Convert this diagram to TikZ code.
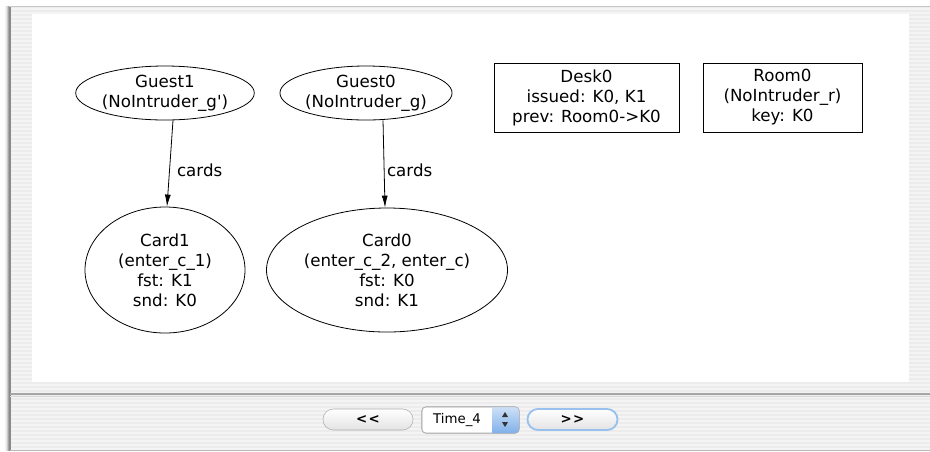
\documentclass[tikz,border=0pt]{standalone}
\usepackage{fontspec}
\setmainfont{DejaVu Sans}
\usetikzlibrary{shapes.geometric, arrows.meta}

\definecolor{okno}{HTML}{ECECEC}
\definecolor{ramka}{HTML}{8A8A8A}
\definecolor{goluboy}{HTML}{6FA6E6}

\tikzset{
    atom/.style = {draw, line width = 0.6pt, ellipse, inner sep = 0pt, align = center,
                   font = \fontsize{12.5}{15}\selectfont},
    sig/.style = {draw, line width = 0.6pt, rectangle, inner sep = 0pt, align = center,
                  font = \fontsize{12.5}{15}\selectfont},
    rel/.style = {-{Latex[length = 9pt, width = 4.5pt]}, line width = 0.6pt},
    metka/.style = {right, inner sep = 2pt, yshift = -5pt, font = \fontsize{12.5}{15}\selectfont},
    knopka/.style = {draw = gray!65, rounded corners = 7.8pt, top color = white, bottom color = gray!22,
                     minimum height = 15.75pt, minimum width = 67.5pt, font = \fontsize{10}{11}\selectfont\bfseries}
}

\begin{document}
\begin{tikzpicture}[x = 0.75pt, y = -0.75pt]
    \useasboundingbox (0, 0) rectangle (930, 451);

    % Окно
    \fill[white] (0, 0) rectangle (930, 451);
    \foreach \i/\c in {1/35, 2/20, 3/10, 4/5}
        \draw[black!\c] (9 - \i, 6) -- (9 - \i, 451); % тень слева
    \fill[okno] (9, 6) rectangle (930, 451);
    \foreach \y in {9, 13, ..., 449}
        \draw[white, opacity = 0.45, line width = 1.2pt] (10, \y) -- (930, \y); % полоски
    \draw[ramka, line width = 1.5pt] (9.5, 6) -- (9.5, 451);
    \draw[gray!45] (9, 6.5) -- (930, 6.5);
    \fill[white] (32, 14) rectangle (909, 382); % панель

    % Нижняя полоса
    \draw[gray!70, line width = 1.5pt] (10, 394) -- (930, 394);
    \draw[gray!30] (10, 396.5) -- (930, 396.5);
    \draw[gray!55] (10, 450) -- (930, 450);

    % Атомы
    \node[atom, minimum width = 127.5pt, minimum height = 40.5pt] (guest1) at (165, 93)
        {Guest1\\(NoIntruder\_g\textquotesingle)};
    \node[atom, minimum width = 117.75pt, minimum height = 40.5pt] (guest0) at (366, 93)
        {Guest0\\(NoIntruder\_g)};
    \node[sig, minimum width = 138.75pt, minimum height = 51.75pt] (desk0) at (586.5, 97.5)
        {Desk0\\issued: K0, K1\\prev: Room0->K0};
    \node[sig, minimum width = 119.25pt, minimum height = 51.75pt] (room0) at (782.5, 97.5)
        {Room0\\(NoIntruder\_r)\\key: K0};
    \node[atom, minimum width = 120pt, minimum height = 94.5pt] (card1) at (165, 270)
        {Card1\\(enter\_c\_1)\\fst: K1\\snd: K0};
    \node[atom, minimum width = 180.75pt, minimum height = 93pt] (card0) at (387, 270)
        {Card0\\(enter\_c\_2, enter\_c)\\fst: K0\\snd: K1};

    % Связи
    \draw[rel] ([xshift = 6pt]guest1.south) -- node[metka, xshift = 3pt] (lab1) {cards} ([xshift = 1.5pt]card1.north);
    \draw[rel] ([xshift = 12.75pt]guest0.south) -- node[metka] (lab0) {cards} ([xshift = -1.5pt]card0.north);

    % Кнопки
    \node[knopka] (nazad) at (368, 419.5) {<\kern1pt<}; % без лигатуры
    \node[draw = gray!65, rounded corners = 3pt, fill = white, minimum width = 72.75pt,
          minimum height = 19.5pt] (vremya) at (470.5, 420) {};
    \begin{scope}
        \clip[rounded corners = 3pt] (vremya.south west) rectangle (vremya.north east);
        \shade[top color = goluboy!35, bottom color = goluboy!90] (492, 407) rectangle (520, 434);
    \end{scope}
    \draw[gray!65, rounded corners = 3pt] (vremya.south west) rectangle (vremya.north east);
    \node[font = \fontsize{10}{11}\selectfont] (vremyatext) at (457, 419.5) {Time\_4};
    \fill[black!80] (502, 417) -- (508, 417) -- (505, 412) -- cycle; % вверх
    \fill[black!80] (502, 422) -- (508, 422) -- (505, 427) -- cycle; % вниз
    \node[knopka, draw = goluboy!70, line width = 1.4pt] (vpered) at (572.5, 419.5) {>\kern1pt>};
\end{tikzpicture}
\end{document}
